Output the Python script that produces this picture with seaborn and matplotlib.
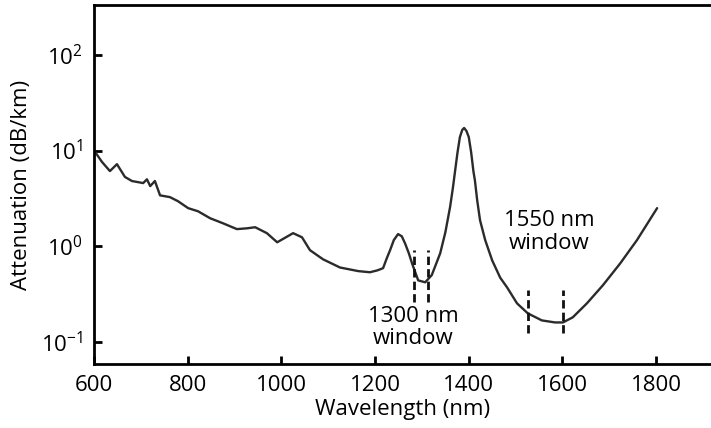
import numpy as np
import pandas as pd
import matplotlib

matplotlib.use("Agg")
import matplotlib.pyplot as plt
import matplotlib.ticker as mticker
import seaborn as sns

# ===================== data =====================
wavelength = [600, 604, 617, 634, 649, 666, 681, 705, 713, 720, 730, 741, 762, 779, 801,
              822, 848, 875, 905, 927, 944, 969, 991, 1025, 1044, 1061, 1089, 1125,
              1164, 1189, 1205, 1217, 1225, 1232, 1240, 1249, 1257, 1264, 1272, 1279,
              1292, 1307, 1321, 1339, 1350, 1360, 1366, 1371, 1376, 1381, 1386, 1390,
              1395, 1400, 1405, 1410, 1413, 1418, 1424, 1435, 1450, 1467, 1482, 1503,
              1526, 1556, 1584, 1601, 1622, 1652, 1686, 1723, 1759, 1802]
attenuation = [9.8, 9.4, 7.6, 6.1, 7.2, 5.3, 4.8, 4.57, 5.0, 4.25, 4.8, 3.4, 3.26, 2.96, 2.50,
               2.32, 1.96, 1.74, 1.51, 1.54, 1.58, 1.37, 1.10, 1.37, 1.24, 0.91, 0.73, 0.60,
               0.55, 0.535, 0.56, 0.59, 0.75, 0.91, 1.16, 1.34, 1.27, 1.07, 0.845, 0.66,
               0.44, 0.42, 0.50, 0.845, 1.40, 2.56, 4.05, 6.25, 9.6, 13.8, 16.4, 17.2,
               16.0, 13.8, 9.6, 6.0, 4.9, 3.0, 1.87, 1.16, 0.71, 0.47, 0.37, 0.253,
               0.199, 0.168, 0.160, 0.160, 0.181, 0.253, 0.39, 0.66, 1.16, 2.5]

window_1300_edges = [1283, 1313]
window_1300_span = [0.26, 0.91]
window_1550_edges = [1526, 1601]
window_1550_span = [0.123, 0.347]

x_ticks = [600, 800, 1000, 1200, 1400, 1600, 1800]
y_ticks = [0.1, 1, 10, 100]
y_tick_labels = [r"$10^{-1}$", r"$10^{0}$", r"$10^{1}$", r"$10^{2}$"]

df = pd.DataFrame({"wavelength": wavelength, "attenuation": attenuation})

# ===================== style =====================
sns.set_style("ticks")
plt.rcParams["font.family"] = ["Open Sans", "DejaVu Sans"]
plt.rcParams["mathtext.fontset"] = "custom"
plt.rcParams["mathtext.rm"] = "Open Sans"
plt.rcParams["mathtext.it"] = "Open Sans:italic"
plt.rcParams["mathtext.default"] = "regular"
plt.rcParams["text.color"] = "black"
plt.rcParams["axes.labelcolor"] = "black"

fig = plt.figure(figsize=(7.11, 4.28), dpi=100)
ax = fig.add_axes([94 / 711, (428 - 364) / 428, (711 - 94) / 711, (364 - 5) / 428])

sns.lineplot(data=df, x="wavelength", y="attenuation", ax=ax,
             color="#2b2b2b", linewidth=1.7)

ax.vlines(window_1300_edges, window_1300_span[0], window_1300_span[1],
          colors="#111111", linestyles=(0, (3, 1.5)), linewidth=2)
ax.vlines(window_1550_edges, window_1550_span[0], window_1550_span[1],
          colors="#111111", linestyles=(0, (3, 1.5)), linewidth=2)

ax.text(1281, 0.142, "1300 nm\nwindow", ha="center", va="center",
        fontsize=16, linespacing=1.1)
ax.text(1571, 1.40, "1550 nm\nwindow", ha="center", va="center",
        fontsize=16, linespacing=1.1)

ax.set_yscale("log")
ax.set_xlim(600, 1917)
ax.set_ylim(10 ** -1.23, 10 ** 2.52)
ax.set_xticks(x_ticks)
ax.set_yticks(y_ticks)
ax.set_yticklabels(y_tick_labels)
ax.yaxis.set_minor_locator(mticker.NullLocator())

ax.tick_params(axis="both", direction="in", length=6, width=2, labelsize=16,
               colors="black", pad=8)
ax.set_xlabel("Wavelength (nm)", fontsize=16, labelpad=2)
ax.set_ylabel("Attenuation (dB/km)", fontsize=16, labelpad=6)

for side in ["left", "bottom", "top"]:
    ax.spines[side].set_linewidth(2)
    ax.spines[side].set_color("black")
ax.spines["right"].set_visible(False)

fig.savefig("out.png", dpi=100)
plt.close(fig)
